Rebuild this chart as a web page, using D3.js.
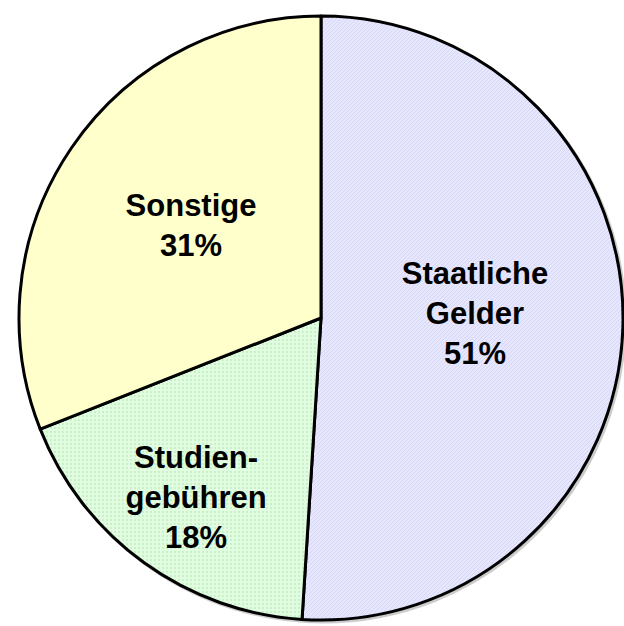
<!DOCTYPE html>
<html><head><meta charset="utf-8">
<script src="https://cdn.jsdelivr.net/npm/d3@7"></script>
<style>html,body{margin:0;padding:0;background:#fff;}svg{display:block;}</style>
</head><body>
<script>
const categories = ["Staatliche Gelder", "Studiengebühren", "Sonstige"];
const values = [51, 18, 31];
const labelLines = [["Staatliche","Gelder","51%"],["Studien-","gebühren","18%"],["Sonstige","31%"]];

const W = 624, H = 626;
const cx = 321, cy = 318, R = 302;
const svg = d3.select("body").append("svg").attr("width", W).attr("height", H);
const defs = svg.append("defs");

const p1 = defs.append("pattern").attr("id","pLav").attr("patternUnits","userSpaceOnUse")
  .attr("width",4).attr("height",4);
p1.append("rect").attr("width",4).attr("height",4).attr("fill","#E6E6FC");
p1.append("path").attr("d","M0,4 L4,0 M-1,1 L1,-1 M3,5 L5,3").attr("stroke","#D6D6F6").attr("stroke-width",1);

const p2 = defs.append("pattern").attr("id","pGrn").attr("patternUnits","userSpaceOnUse")
  .attr("width",4).attr("height",4);
p2.append("rect").attr("width",4).attr("height",4).attr("fill","#E2FCE2");
p2.append("rect").attr("x",1).attr("y",1).attr("width",2).attr("height",2).attr("fill","#C6F2C6");

const fills = ["url(#pLav)", "url(#pGrn)", "#FFFFCC"];
const labelRadius = [0.51, 0.723, 0.53];
const labelAngleShift = [-3.7, -1.1, 1.5];

const pie = d3.pie().sort(null).value(d => d);
const arcs = pie(values);
const arc = d3.arc().innerRadius(0).outerRadius(R);

const g = svg.append("g").attr("transform", `translate(${cx},${cy})`);

g.append("circle").attr("r", R).attr("cx", 2).attr("cy", 2).attr("fill", "none")
  .attr("stroke", "#999").attr("stroke-width", 3).attr("opacity", 0.5);

g.selectAll("path.slice").data(arcs).join("path").attr("class","slice")
  .attr("d", arc).attr("fill", (d,i) => fills[i])
  .attr("stroke", "#000").attr("stroke-width", 3).attr("stroke-linejoin","round");

const fs = 31, lh = 40;
arcs.forEach((d, i) => {
  const lr = R * labelRadius[i];
  const a = (d.startAngle + d.endAngle) / 2 + labelAngleShift[i] * Math.PI / 180;
  const c = [lr * Math.sin(a), -lr * Math.cos(a)];
  const lines = labelLines[i];
  const t = g.append("text").attr("text-anchor","middle")
    .attr("font-family","'Liberation Sans', Arial, sans-serif")
    .attr("font-weight","bold").attr("font-size", fs).attr("fill","#000");
  lines.forEach((ln, j) => {
    t.append("tspan").attr("x", c[0])
      .attr("y", c[1] + (j - (lines.length - 1) / 2) * lh + fs * 0.36)
      .text(ln);
  });
});
</script>
</body></html>
